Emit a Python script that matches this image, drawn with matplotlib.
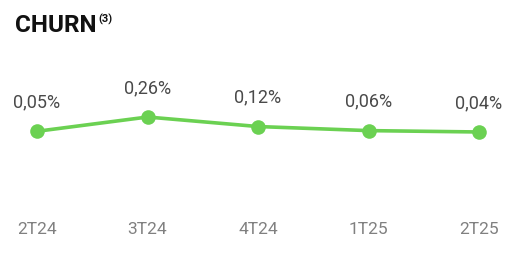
import matplotlib
matplotlib.use("Agg")
import matplotlib.pyplot as plt  # noqa: E402

quarters = ["2T24", "3T24", "4T24", "1T25", "2T25"]
churn = [0.05, 0.26, 0.12, 0.06, 0.04]
labels = ["0,05%", "0,26%", "0,12%", "0,06%", "0,04%"]

GREEN = "#6bd152"

plt.rcParams["font.family"] = ["Roboto", "DejaVu Sans"]

fig = plt.figure(figsize=(5.26, 2.62), dpi=100)
ax = fig.add_axes([0, 47 / 262, 1, 215 / 262])

x = list(range(len(quarters)))
ax.plot(x, churn, color=GREEN, linewidth=2.6, marker="o", markersize=10.5,
        markeredgewidth=0, zorder=3)

for xi, v, lab in zip(x, churn, labels):
    ax.annotate(lab, (xi, v), xytext=(0, 29), textcoords="offset pixels",
                ha="center", va="center", fontsize=13, color="#4a4a4a")

ax.set_xlim(-0.335, 4.425)
ax.set_ylim(-1.181, 1.981)
ax.set_xticks(x)
ax.set_xticklabels(quarters, fontsize=12.5, color="#808080")
ax.tick_params(axis="x", length=0, pad=5)
ax.set_yticks([])
for s in ax.spines.values():
    s.set_visible(False)

fig.text(15 / 526, 1 - 26 / 262, "CHURN", fontsize=17.5, fontweight="bold",
         color="#111111", va="center", ha="left")
fig.text(98 / 526, 1 - 19 / 262, "(3)", fontsize=8, fontweight="bold",
         color="#111111", va="center", ha="left")

fig.savefig("out.png", dpi=100)
